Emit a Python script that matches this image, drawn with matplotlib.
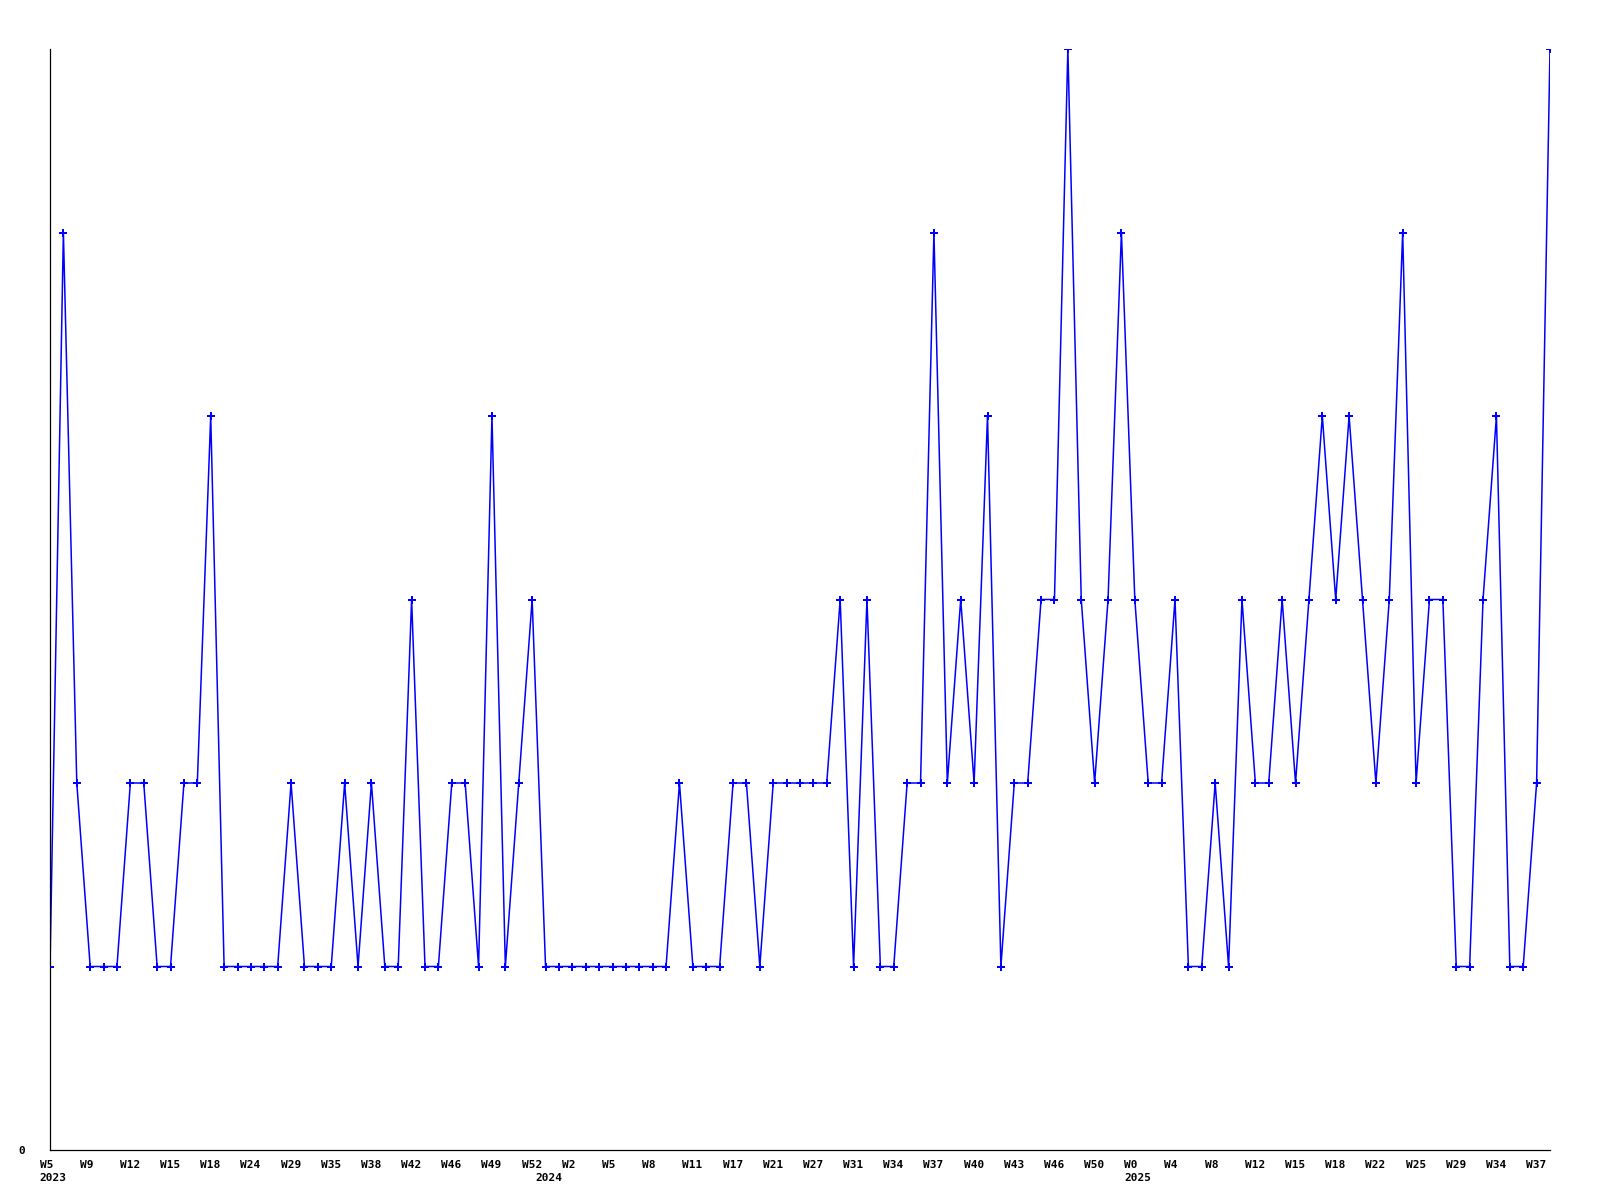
import matplotlib
matplotlib.use("Agg")
import matplotlib.pyplot as plt
from matplotlib.transforms import ScaledTranslation

values = [1, 5, 2, 1, 1, 1, 2, 2, 1, 1, 2, 2, 4, 1, 1, 1, 1, 1, 2, 1,
          1, 1, 2, 1, 2, 1, 1, 3, 1, 1, 2, 2, 1, 4, 1, 2, 3, 1, 1, 1,
          1, 1, 1, 1, 1, 1, 1, 2, 1, 1, 1, 2, 2, 1, 2, 2, 2, 2, 2, 3,
          1, 3, 1, 1, 2, 2, 5, 2, 3, 2, 4, 1, 2, 2, 3, 3, 6, 3, 2, 3,
          5, 3, 2, 2, 3, 1, 1, 2, 1, 3, 2, 2, 3, 2, 3, 4, 3, 4, 3, 2,
          3, 5, 2, 3, 3, 1, 1, 3, 4, 1, 1, 2, 6]

week_labels = ["W5", "W9", "W12", "W15", "W18", "W24", "W29", "W35", "W38", "W42",
               "W46", "W49", "W52", "W2", "W5", "W8", "W11", "W17", "W21", "W27",
               "W31", "W34", "W37", "W40", "W43", "W46", "W50", "W0", "W4", "W8",
               "W12", "W15", "W18", "W22", "W25", "W29", "W34", "W37"]
label_step = 3
year_labels = ["2023", "2024", "2025"]
year_positions = [0, 37, 81]

fig = plt.figure(figsize=(16, 12), dpi=100)
ax = fig.add_axes([50 / 1600, 50 / 1200, 1500 / 1600, 1101 / 1200])

x = list(range(len(values)))
ax.plot(x, values, color="#0000ff", linewidth=1.1, marker="P", markersize=5.5,
        markeredgewidth=0, markerfacecolor="#0000ff")

ax.set_xlim(0, len(values) - 1)
ax.set_ylim(0, 6)

for s in ("top", "right"):
    ax.spines[s].set_visible(False)
for s in ("left", "bottom"):
    ax.spines[s].set_color("black")
    ax.spines[s].set_linewidth(0.9)

font = dict(family="DejaVu Sans Mono", weight="bold", size=8)

ax.set_yticks([0])
ax.set_yticklabels(["0"], **font)
ax.tick_params(axis="y", length=0, pad=18)

ticks = [i * label_step for i in range(len(week_labels))]
ax.set_xticks(ticks)
ax.set_xticklabels(week_labels, **font)
ax.tick_params(axis="x", length=0, pad=7)
offset = ScaledTranslation(-10.5 / 100, 0, fig.dpi_scale_trans)
for lab in ax.get_xticklabels():
    lab.set_horizontalalignment("left")
    lab.set_transform(lab.get_transform() + offset)

trans = ax.get_xaxis_transform() + offset
for pos, yl in zip(year_positions, year_labels):
    ax.text(pos, 0, yl, transform=trans + ScaledTranslation(0, -23 / 100, fig.dpi_scale_trans),
            ha="left", va="top", **font)

fig.savefig("out.png", dpi=100, facecolor="white")
